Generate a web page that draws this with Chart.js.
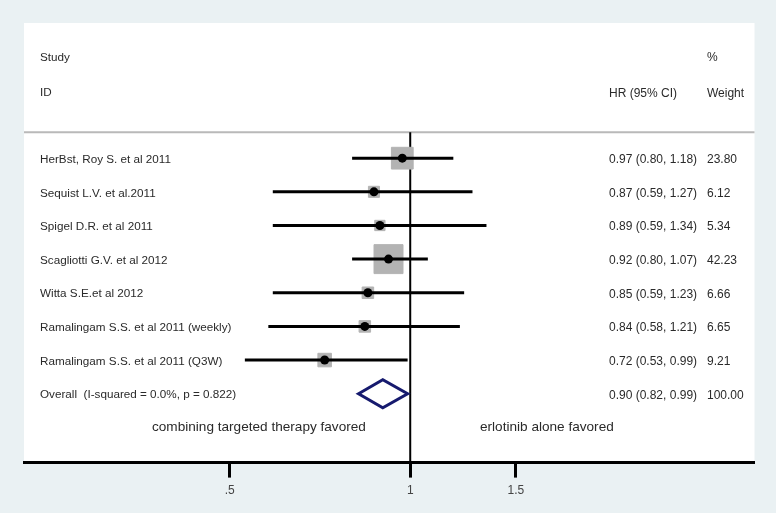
<!DOCTYPE html>
<html>
<head>
<meta charset="utf-8">
<script src="https://cdn.jsdelivr.net/npm/chart.js@4.4.1/dist/chart.umd.min.js"></script>
<style>
  html, body { margin: 0; padding: 0; background: #eaf1f3; }
  canvas { display: block; }
</style>
</head>
<body>
<canvas id="c" width="776" height="513" style="width:776px;height:513px"></canvas>
<script>
// ---- data ----
const studies = [
  'HerBst, Roy S. et al 2011',
  'Sequist L.V. et al.2011',
  'Spigel D.R. et al 2011',
  'Scagliotti G.V. et al 2012',
  'Witta S.E.et al 2012',
  'Ramalingam S.S. et al 2011 (weekly)',
  'Ramalingam S.S. et al 2011 (Q3W)'
];
const hr      = [0.97, 0.87, 0.89, 0.92, 0.85, 0.84, 0.72];
const ciLow   = [0.80, 0.59, 0.59, 0.80, 0.59, 0.58, 0.53];
const ciHigh  = [1.18, 1.27, 1.34, 1.07, 1.23, 1.21, 0.99];
const weights = [23.80, 6.12, 5.34, 42.23, 6.66, 6.65, 9.21];

const overallLabel = 'Overall  (I-squared = 0.0%, p = 0.822)';
const overallHR = 0.90, overallLow = 0.82, overallHigh = 0.99, overallWeight = 100.00;

const favoredLeft = 'combining targeted therapy favored';
const favoredRight = 'erlotinib alone favored';

const tickValues = [0.5, 1, 1.5];
const tickLabels = ['.5', '1', '1.5'];

// ---- helpers ----
const rows = studies.map((_, i) => i);
const FONT = '"Liberation Sans", Arial, sans-serif';

const ciDatasets = studies.map((s, i) => ({
  type: 'line',
  data: [{x: ciLow[i], y: i}, {x: ciHigh[i], y: i}],
  borderColor: '#000',
  borderWidth: 3,
  pointRadius: 0,
  order: 2
}));

const forestPlugin = {
  id: 'forest',
  beforeDraw(chart) {
    const {ctx, chartArea: a, scales: {x, y}} = chart;
    ctx.save();
    ctx.fillStyle = '#eaf1f3';
    ctx.fillRect(0, 0, chart.width, chart.height);
    ctx.fillStyle = '#ffffff';
    ctx.fillRect(a.left, a.top, a.right - a.left, a.bottom - a.top);
    const sepY = y.getPixelForValue(-0.77);
    ctx.strokeStyle = '#b9b9b9';
    ctx.lineWidth = 2;
    ctx.beginPath();
    ctx.moveTo(a.left, sepY);
    ctx.lineTo(a.right, sepY);
    ctx.stroke();
    ctx.restore();
  },
  beforeDatasetsDraw(chart) {
    const {ctx, chartArea: a, scales: {x, y}} = chart;
    ctx.save();
    const x1 = x.getPixelForValue(1);
    ctx.strokeStyle = '#000';
    ctx.lineWidth = 2;
    ctx.beginPath();
    ctx.moveTo(x1, y.getPixelForValue(-0.77));
    ctx.lineTo(x1, a.bottom);
    ctx.stroke();
    ctx.restore();
  },
  afterDatasetsDraw(chart) {
    const {ctx, chartArea: a, scales: {x, y}} = chart;
    ctx.save();
    const oy = y.getPixelForValue(studies.length);
    const half = 14;
    ctx.strokeStyle = '#161a6e';
    ctx.lineWidth = 3;
    ctx.lineJoin = 'miter';
    ctx.beginPath();
    ctx.moveTo(x.getPixelForValue(overallLow), oy);
    ctx.lineTo(x.getPixelForValue(overallHR), oy - half);
    ctx.lineTo(x.getPixelForValue(overallHigh), oy);
    ctx.lineTo(x.getPixelForValue(overallHR), oy + half);
    ctx.closePath();
    ctx.stroke();

    ctx.fillStyle = '#2a2a2a';
    ctx.textBaseline = 'middle';
    ctx.textAlign = 'left';
    const colL = 40, colHR = 609, colW = 707;
    ctx.font = '11.7px ' + FONT;
    const hy1 = y.getPixelForValue(-2.98), hy2 = y.getPixelForValue(-1.93);
    ctx.fillText('Study', colL, hy1);
    ctx.fillText('ID', colL, hy2);
    studies.forEach((s, i) => {
      ctx.fillText(s, colL, y.getPixelForValue(i) + 1.5);
    });
    ctx.fillText(overallLabel, colL, oy + 1.5);

    ctx.font = '12px ' + FONT;
    ctx.fillText('%', colW, hy1);
    ctx.fillText('HR (95% CI)', colHR, hy2);
    ctx.fillText('Weight', colW, hy2);
    studies.forEach((s, i) => {
      const py = y.getPixelForValue(i) + 1.5;
      ctx.fillText(hr[i].toFixed(2) + ' (' + ciLow[i].toFixed(2) + ', ' + ciHigh[i].toFixed(2) + ')', colHR, py);
      ctx.fillText(weights[i].toFixed(2), colW, py);
    });
    ctx.fillText(overallHR.toFixed(2) + ' (' + overallLow.toFixed(2) + ', ' + overallHigh.toFixed(2) + ')', colHR, oy + 1.5);
    ctx.fillText(overallWeight.toFixed(2), colW, oy + 1.5);

    ctx.font = '13.6px ' + FONT;
    const fy = y.getPixelForValue(studies.length + 1);
    ctx.fillText(favoredLeft, 152, fy);
    ctx.fillText(favoredRight, 480, fy);
    ctx.restore();
  }
};

new Chart(document.getElementById('c'), {
  type: 'scatter',
  data: {
    datasets: [
      {
        type: 'scatter',
        data: rows.map(i => ({x: hr[i], y: i})),
        pointStyle: 'circle',
        pointRadius: 4.5,
        pointBackgroundColor: '#000',
        pointBorderWidth: 0,
        order: 1
      },
      ...ciDatasets,
      {
        type: 'scatter',
        data: rows.map(i => ({x: hr[i], y: i})),
        pointStyle: 'rect',
        pointRadius: ctx => 4.46 * Math.sqrt(weights[ctx.dataIndex]) / Math.SQRT2,
        pointBackgroundColor: '#b3b3b3',
        pointBorderColor: '#b3b3b3',
        pointBorderWidth: 1,
        order: 3
      }
    ]
  },
  options: {
    responsive: false,
    animation: false,
    devicePixelRatio: 1,
    layout: { padding: { left: 24, right: 14, top: 23, bottom: 9 } },
    plugins: { legend: { display: false }, tooltip: { enabled: false } },
    scales: {
      x: {
        type: 'logarithmic',
        position: 'bottom',
        min: 0.227,
        max: 3.75,
        afterBuildTicks: scale => { scale.ticks = tickValues.map(v => ({value: v})); },
        ticks: {
          autoSkip: false,
          maxRotation: 0,
          padding: 6,
          color: '#444',
          font: { family: FONT, size: 12 },
          callback: (v, i) => tickLabels[i]
        },
        grid: {
          display: true,
          drawOnChartArea: false,
          drawTicks: true,
          tickLength: 15,
          tickWidth: 3,
          tickColor: '#000'
        },
        border: { display: true, color: '#000', width: 3 }
      },
      y: {
        type: 'linear',
        display: false,
        reverse: true,
        min: -4.018,
        max: 9.048
      }
    }
  },
  plugins: [forestPlugin]
});
</script>
</body>
</html>
